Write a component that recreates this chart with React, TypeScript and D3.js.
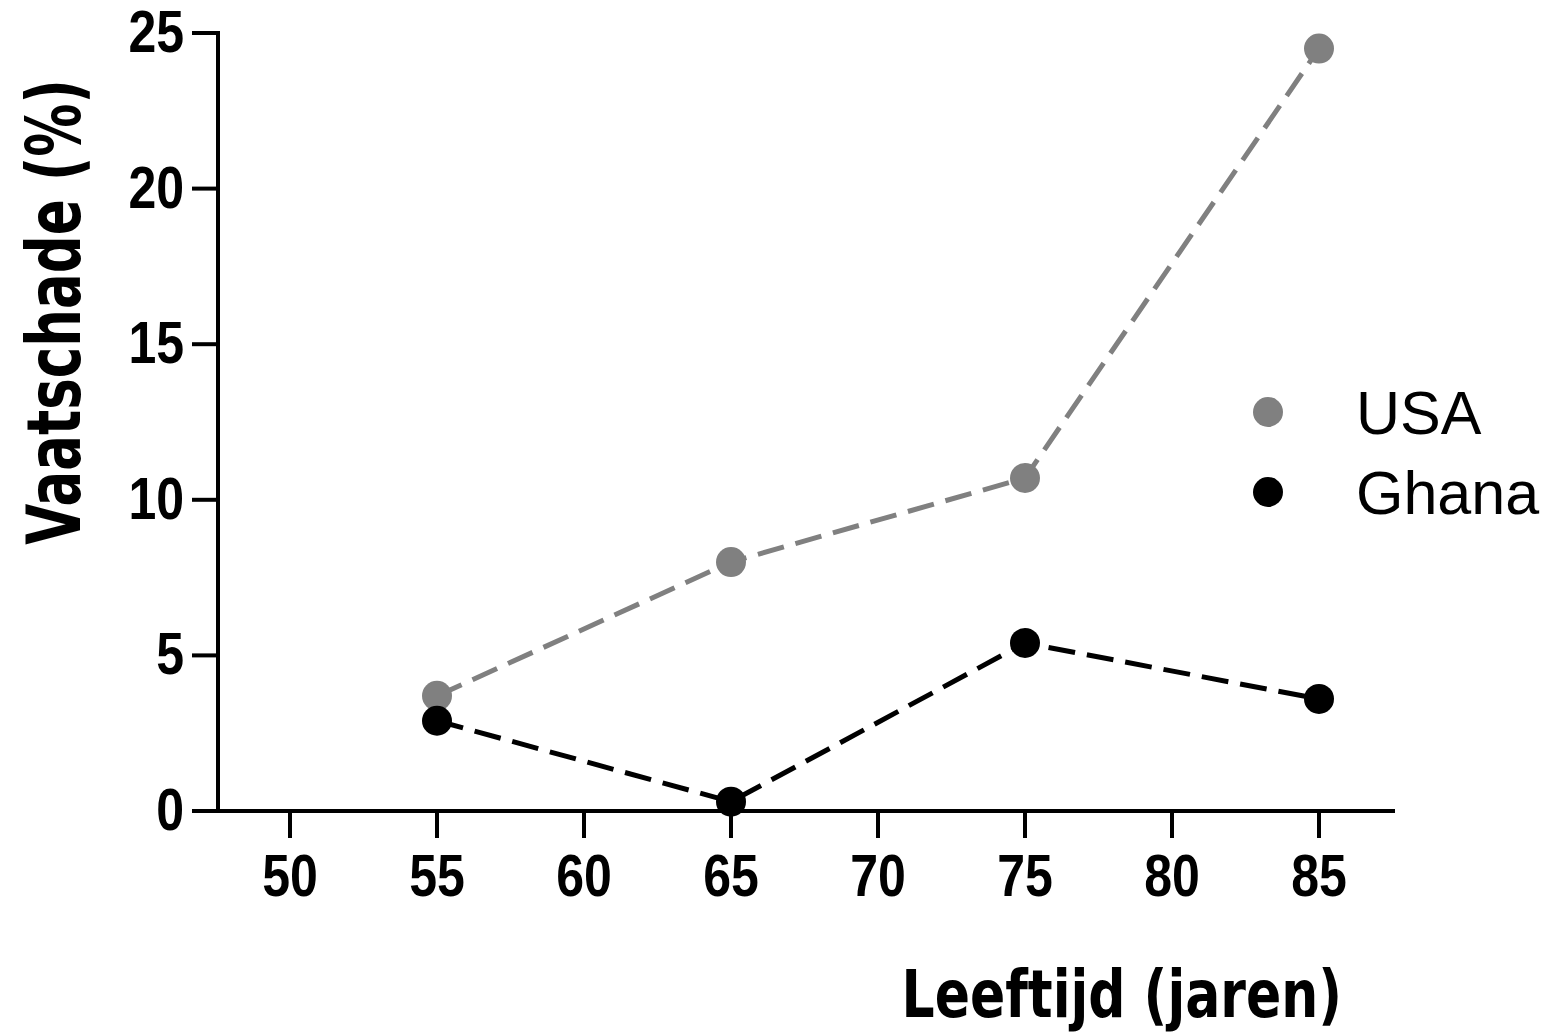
import React from "react";
import * as d3 from "d3";

const ages = [55, 65, 75, 85];
const usa = [3.7, 8.0, 10.7, 24.5];
const ghana = [2.9, 0.3, 5.4, 3.6];
const xTicks = [50, 55, 60, 65, 70, 75, 80, 85];
const yTicks = [0, 5, 10, 15, 20, 25];
const seriesNames = ["USA", "Ghana"];
const seriesColors = ["#808080", "#000000"];

const W = 1552;
const H = 1036;

export default function App() {
  const x = d3.scaleLinear().domain([50, 85]).range([290, 1319]);
  const y = d3.scaleLinear().domain([0, 25]).range([811, 33]);
  const axisX0 = 218;
  const axisX1 = 1395;
  const tickLen = 26;
  const line = d3
    .line<[number, number]>()
    .x((d) => x(d[0]))
    .y((d) => y(d[1]));
  const series = [usa, ghana];
  const tickFont = "'Liberation Sans', Arial, sans-serif";
  const titleFont = "'DejaVu Sans', 'Liberation Sans', sans-serif";

  return (
    <svg width={W} height={H} viewBox={`0 0 ${W} ${H}`} style={{ display: "block", position: "absolute", left: 0, top: 0 }}>
      <rect width={W} height={H} fill="#fff" />
      {series.map((s, i) => (
        <path
          key={"l" + i}
          d={line(ages.map((a, j) => [a, s[j]] as [number, number])) || ""}
          fill="none"
          stroke={seriesColors[i]}
          strokeWidth={5}
          strokeDasharray="27 12"
        />
      ))}
      {series.map((s, i) =>
        ages.map((a, j) => (
          <circle key={"c" + i + "-" + j} cx={x(a)} cy={y(s[j])} r={15} fill={seriesColors[i]} />
        ))
      )}
      <line x1={axisX0} x2={axisX0} y1={y(25) - 2} y2={y(0) + 2} stroke="#000" strokeWidth={4} />
      <line x1={axisX0} x2={axisX1} y1={y(0)} y2={y(0)} stroke="#000" strokeWidth={4} />
      {yTicks.map((t) => (
        <g key={"yt" + t}>
          <line x1={axisX0 - tickLen} x2={axisX0} y1={y(t)} y2={y(t)} stroke="#000" strokeWidth={4} />
          <text
            transform={`translate(184,${y(t) + 19}) scale(1,1.17)`}
            textAnchor="end"
            fontFamily={tickFont}
            fontWeight="bold"
            fontSize={50}
            fill="#000"
          >
            {t}
          </text>
        </g>
      ))}
      {xTicks.map((t) => (
        <g key={"xt" + t}>
          <line x1={x(t)} x2={x(t)} y1={y(0)} y2={y(0) + tickLen + 1} stroke="#000" strokeWidth={4} />
          <text
            transform={`translate(${x(t)},896) scale(1,1.17)`}
            textAnchor="middle"
            fontFamily={tickFont}
            fontWeight="bold"
            fontSize={50}
            fill="#000"
          >
            {t}
          </text>
        </g>
      ))}
      <text
        transform="translate(1342,1017) scale(1,1.25)"
        textAnchor="end"
        fontFamily={titleFont}
        fontWeight="bold"
        fontSize={52}
        fill="#000"
      >
        Leeftijd (jaren)
      </text>
      <text
        transform="translate(80,312) rotate(-90) scale(1,1.4)"
        textAnchor="middle"
        fontFamily={titleFont}
        fontWeight="bold"
        fontSize={53}
        fill="#000"
      >
        Vaatschade (%)
      </text>
      {seriesNames.map((n, i) => (
        <g key={"lg" + n}>
          <circle cx={1268} cy={412 + i * 80} r={15} fill={seriesColors[i]} />
          <text x={1356} y={434 + i * 80} fontFamily={tickFont} fontSize={61} fill="#000">
            {n}
          </text>
        </g>
      ))}
    </svg>
  );
}
